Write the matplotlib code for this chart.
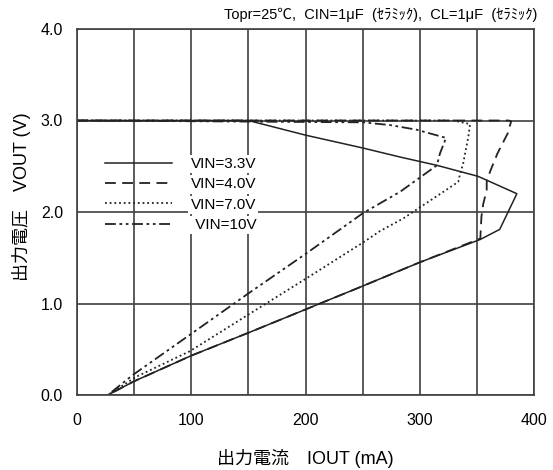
import matplotlib
matplotlib.use("Agg")
import matplotlib.pyplot as plt
from matplotlib.ticker import MultipleLocator

plt.rcParams['font.family'] = ['Liberation Sans', 'Noto Sans CJK JP', 'DejaVu Sans']

# ---- data (IOUT in mA, VOUT in V) ----
labels = ["VIN=3.3V", "VIN=4.0V", "VIN=7.0V", " VIN=10V"]

i_33 = [0, 150, 200, 250, 283, 315, 351, 385, 370, 353, 300, 248, 201, 150, 100, 50, 27]
v_33 = [3.0, 3.0, 2.84, 2.70, 2.60, 2.51, 2.39, 2.20, 1.81, 1.70, 1.45, 1.18, 0.94, 0.68, 0.43, 0.15, 0.0]

i_40 = [0, 378, 380, 377, 368, 361.5, 358.6, 358.6, 355.6, 354, 353, 300, 248, 201, 150, 100, 50, 27]
v_40 = [3.0, 3.0, 2.99, 2.86, 2.64, 2.44, 2.33, 2.24, 2.09, 1.95, 1.71, 1.45, 1.18, 0.94, 0.68, 0.43, 0.15, 0.0]

i_70 = [0, 330, 344, 342.5, 338, 335, 333.7, 320.6, 285.6, 265, 252, 204, 154, 99, 52, 27]
v_70 = [3.0, 3.0, 2.96, 2.82, 2.53, 2.40, 2.33, 2.22, 1.93, 1.79, 1.68, 1.30, 0.91, 0.48, 0.20, 0.0]

i_10 = [0, 250, 274, 297, 323, 317.7, 315, 282.7, 250.6, 201, 150, 99, 49, 27]
v_10 = [3.0, 2.98, 2.95, 2.90, 2.81, 2.64, 2.51, 2.22, 1.99, 1.55, 1.11, 0.66, 0.22, 0.0]

x_ticks = [0, 100, 200, 300, 400]
y_ticks = [0.0, 1.0, 2.0, 3.0, 4.0]

title_txt = "Topr=25℃,  CIN=1μF  (ｾﾗﾐｯｸ),  CL=1μF  (ｾﾗﾐｯｸ)"
xlabel_txt = "出力電流　IOUT (mA)"
ylabel_txt = "出力電圧　VOUT (V)"

# ---- figure ----
W, H = 553, 470
fig = plt.figure(figsize=(W / 100, H / 100), dpi=100)
ax = fig.add_axes([77 / W, 1 - 395 / H, (534 - 77) / W, (395 - 29) / H])

grid_c = "#404040"
ax.set_xlim(0, 400)
ax.set_ylim(0, 4.0)
ax.set_xticks(x_ticks)
ax.set_yticks(y_ticks)
ax.set_yticklabels([f"{v:.1f}" for v in y_ticks])
ax.xaxis.set_minor_locator(MultipleLocator(50))
ax.grid(True, which='both', color=grid_c, linewidth=1.2)
ax.tick_params(which='both', length=0)
ax.tick_params(axis='x', pad=13, labelsize=11.5)
ax.tick_params(axis='y', pad=10, labelsize=11.5)
for s in ax.spines.values():
    s.set_color(grid_c)
    s.set_linewidth(1.2)
ax.set_axisbelow(True)

lc = "#222222"
ax.plot(i_33, v_33, color=lc, lw=1.1, ls='-', label=labels[0])
ax.plot(i_40, v_40, color=lc, lw=1.3, ls=(0, (6, 3.5)), label=labels[1])
ax.plot(i_70, v_70, color=lc, lw=1.3, ls=(0, (1, 1.6)), label=labels[2])
ax.plot(i_10, v_10, color=lc, lw=1.3, ls=(0, (6, 2, 1.5, 2, 1.5, 2)), label=labels[3])

leg = ax.legend(loc='upper left', bbox_to_anchor=(105 / W, 1 - 157 / H),
                bbox_transform=fig.transFigure, frameon=False, fontsize=11,
                handlelength=4.4, handletextpad=1.2, labelspacing=0.42,
                borderpad=0, borderaxespad=0)
for t in leg.get_texts():
    t.set_bbox(dict(facecolor='white', edgecolor='none', pad=1.5))

ax.set_xlabel(xlabel_txt, fontsize=13, va='center')
ax.xaxis.set_label_coords(0.5, (395 - 459) / 366)
ax.set_ylabel(ylabel_txt, fontsize=13, va='center')
ax.yaxis.set_label_coords((22 - 77) / 457, (395 - 197) / 366)

fig.text(537 / W, 1 - 15 / H, title_txt, ha='right', va='center', fontsize=10.5)

fig.savefig("out.png", dpi=100, facecolor='white')
